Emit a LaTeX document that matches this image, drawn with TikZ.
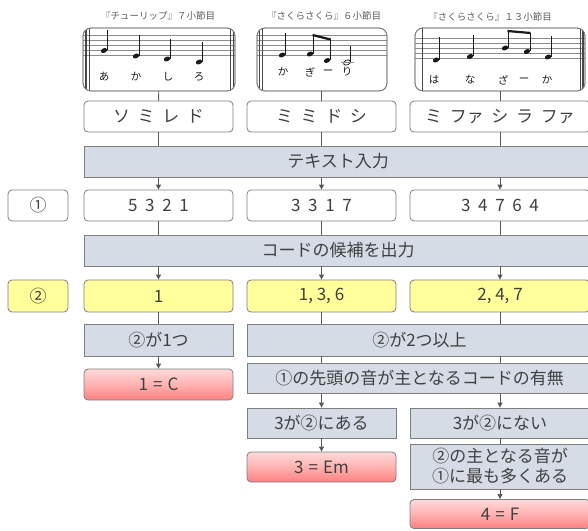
\documentclass[tikz,border=0pt]{standalone}
\usepackage{fontspec}
\setmainfont{Noto Sans CJK JP}
\usetikzlibrary{arrows.meta}
\definecolor{bordc}{HTML}{7F7F7F}
\definecolor{barc}{HTML}{D6DCE5}
\definecolor{yel}{HTML}{FFFF9C}
\definecolor{redt}{HTML}{FFDADA}
\definecolor{redb}{HTML}{FF8080}
\definecolor{txt}{HTML}{404040}
\definecolor{linec}{HTML}{595959}
\definecolor{notec}{HTML}{1A1A1A}
\definecolor{stl}{HTML}{8C8C8C}
\newcommand\gp{\hspace{0.45em}}
\newcommand\eqg{\hspace{0.3em}}
\newcommand\mfont{\fontsize{17}{20}\selectfont}
\newcommand\qn[3]{%
  \fill[notec] (#1,#2) ellipse[x radius=3.3, y radius=2.3, rotate=25];
  \draw[notec, line width=0.9pt] (#1+3,#2-0.5) -- (#1+3,#3);}
\begin{document}
\begin{tikzpicture}[x=1pt,y=-1pt,
  box/.style={draw=bordc, line width=0.8pt, rounded corners=4pt, fill=white,
    minimum height=31pt, inner sep=0pt, text=txt, font=\mfont},
  barbox/.style={draw=bordc, line width=0.8pt, fill=barc, minimum height=31pt,
    inner sep=0pt, text=txt, font=\mfont},
  ybox/.style={box, fill=yel},
  rbox/.style={box, top color=redt, bottom color=redb, middle color=redt!55!redb},
  staffbox/.style={draw=bordc, line width=0.8pt, rounded corners=8pt, minimum height=63pt, inner sep=0pt},
  ttl/.style={font=\fontsize{9.5}{11}\selectfont, text=txt!85, inner sep=0pt},
  lyr/.style={font=\fontsize{10.5}{12}\selectfont, text=notec, inner sep=0pt},
  ln/.style={draw=linec, line width=0.9pt},
  arr/.style={ln, -{Triangle[length=5pt,width=5pt]}},
  sl/.style={draw=stl, line width=0.6pt},
  bl/.style={draw=notec!80, line width=0.8pt}]
\path[use as bounding box] (0,0) rectangle (588,530);
\clip (0,0) rectangle (588,530);

% ---------- titles ----------
\node[ttl] (t1) at (158,16) {『チューリップ』７小節目};
\node[ttl] (t2) at (324,16) {『さくらさくら』６小節目};
\node[ttl] (t3) at (490,17) {『さくらさくら』１３小節目};

% ---------- staff 1 ----------
\node[staffbox, minimum width=152pt] (st1) at (159,59.5) {};
\begin{scope}
\clip[rounded corners=8pt] (83,28) rectangle (235,91);
\foreach \y in {35,40,45,50,55} \draw[sl] (83,\y) -- (235,\y);
\draw[bl, line width=1.2pt] (86,28) -- (86,91);
\draw[bl] (89.5,28) -- (89.5,91);
\draw[bl] (230,28) -- (230,91);
\draw[bl, line width=1.2pt] (233.5,28) -- (233.5,91);
\qn{104}{50.5}{30}
\qn{136}{56}{35}
\qn{167}{59}{39}
\qn{199}{62}{42}
\end{scope}
\node[lyr] (l11) at (104,77) {あ};
\node[lyr] (l12) at (136,77) {か};
\node[lyr] (l13) at (168,77) {し};
\node[lyr] (l14) at (199,77) {ろ};
\draw[bordc, line width=0.8pt, rounded corners=8pt] (83,28) rectangle (235,91);

% ---------- staff 2 ----------
\node[staffbox, minimum width=130pt] (st2) at (322,59.5) {};
\begin{scope}
\clip[rounded corners=8pt] (257,28) rectangle (387,91);
\foreach \y in {35,40,45,50,55} \draw[sl] (257,\y) -- (387,\y);
\draw[bl, line width=1.2pt] (259.5,28) -- (259.5,91);
\draw[bl] (262.5,28) -- (262.5,91);
\qn{282}{55}{33}
\qn{310}{54}{35}
\qn{327}{60.5}{39}
\draw[notec, line width=2.2pt] (312.5,35) -- (330.5,39.5);
\draw[notec, line width=0.8pt] (347,62.5) ellipse[x radius=3.6, y radius=2.4, rotate=25];
\draw[notec, line width=0.9pt] (350.3,62) -- (350.3,46);
\draw[sl] (341,62.5) -- (354,62.5);
\end{scope}
\node[lyr] (l21) at (283,72) {か};
\node[lyr] (l22) at (310,72) {ぎ};
\node[lyr] (l23) at (328,72) {ー};
\node[lyr] (l24) at (347,72) {り};
\draw[bordc, line width=0.8pt, rounded corners=8pt] (257,28) rectangle (387,91);

% ---------- staff 3 ----------
\node[staffbox, minimum width=170pt] (st3) at (500,59.5) {};
\begin{scope}
\clip[rounded corners=8pt] (415,28) rectangle (585,91);
\foreach \y in {38,43,48,53,58} \draw[sl] (415,\y) -- (585,\y);
\draw[bl] (422,28) -- (422,91);
\draw[bl] (580,28) -- (580,91);
\draw[bl, line width=1.2pt] (583,28) -- (583,91);
\qn{436}{60}{37}
\qn{470}{56.5}{35}
\qn{505}{48}{31}
\qn{527}{51.5}{33}
\draw[notec, line width=2.2pt] (507.5,31) -- (530.5,33);
\qn{548}{57}{36}
\end{scope}
\node[lyr] (l31) at (434,80) {は};
\node[lyr] (l32) at (470,80) {な};
\node[lyr] (l33) at (503,80) {ざ};
\node[lyr] (l34) at (524,80) {ー};
\node[lyr] (l35) at (547,80) {か};
\draw[bordc, line width=0.8pt, rounded corners=8pt] (415,28) rectangle (585,91);

% ---------- note names ----------
\node[box, minimum width=149pt] (n1) at (158.5,116.5) {ソ\gp ミ\gp レ\gp ド};
\node[box, minimum width=149pt] (n2) at (321.5,116.5) {ミ\gp ミ\gp ド\gp シ};
\node[box, minimum width=180pt] (n3) at (500,116.5) {ミ\gp ファ\gp シ\gp ラ\gp ファ};

\node[barbox, minimum width=508pt] (b1) at (338,161.5) {テキスト入力};

% ---------- row 1 ----------
\node[box, minimum width=60pt] (lab1) at (38,205.5) {①};
\node[box, minimum width=149pt] (a1) at (158.5,205.5) {5\gp 3\gp 2\gp 1};
\node[box, minimum width=149pt] (a2) at (321.5,205.5) {3\gp 3\gp 1\gp 7};
\node[box, minimum width=180pt] (a3) at (500,205.5) {3\gp 4\gp 7\gp 6\gp 4};

\node[barbox, minimum width=508pt] (b2) at (338,250.5) {コードの候補を出力};

% ---------- row 2 ----------
\node[ybox, minimum width=60pt, minimum height=32pt] (lab2) at (38,296) {②};
\node[ybox, minimum width=149pt, minimum height=32pt] (c1) at (158.5,296) {1};
\node[ybox, minimum width=149pt, minimum height=32pt] (c2) at (321.5,296) {1, 3, 6};
\node[ybox, minimum width=180pt, minimum height=32pt] (c3) at (500,296) {2, 4, 7};

\node[barbox, minimum width=149pt, minimum height=32pt] (d1) at (158.5,340) {②が1つ};
\node[barbox, minimum width=345pt, minimum height=32pt] (d2) at (419.5,340) {②が2つ以上};

\node[rbox, minimum width=149pt] (r1) at (158.5,384.5) {1\eqg=\eqg C};
\node[barbox, minimum width=345pt, minimum height=30pt] (e2) at (419.5,378) {①の先頭の音が主となるコードの有無};

\node[barbox, minimum width=149pt, minimum height=30pt] (f2) at (321.5,423) {3が②にある};
\node[barbox, minimum width=180pt, minimum height=30pt] (f3) at (500,423) {3が②にない};

\node[rbox, minimum width=149pt, minimum height=30pt] (r2) at (321.5,467) {3\eqg=\eqg Em};
\node[barbox, minimum width=180pt, minimum height=45pt, align=center,
  font=\fontsize{17}{20}\selectfont] (g3) at (500,466.5) {②の主となる音が\\①に最も多くある};
\node[rbox, minimum width=180pt, minimum height=29pt] (r3) at (500,514) {4\eqg=\eqg F};

% ---------- connectors ----------
\draw[ln] (st1) -- (n1);
\draw[ln] (st2.south -| n2) -- (n2);
\draw[ln] (st3.south -| n3) -- (n3);
\draw[ln] (n1) -- (n1 |- b1.north);
\draw[ln] (n2) -- (n2 |- b1.north);
\draw[ln] (n3) -- (n3 |- b1.north);
\draw[arr] (a1 |- b1.south) -- (a1);
\draw[arr] (a2 |- b1.south) -- (a2);
\draw[arr] (a3 |- b1.south) -- (a3);
\draw[ln] (a1) -- (a1 |- b2.north);
\draw[ln] (a2) -- (a2 |- b2.north);
\draw[ln] (a3) -- (a3 |- b2.north);
\draw[arr] (c1 |- b2.south) -- (c1);
\draw[arr] (c2 |- b2.south) -- (c2);
\draw[arr] (c3 |- b2.south) -- (c3);
\draw[ln] (c1) -- (d1);
\draw[ln] (c2) -- (c2 |- d2.north);
\draw[ln] (c3) -- (c3 |- d2.north);
\draw[arr] (d1) -- (r1);
\draw[ln] (c2 |- d2.south) -- (c2 |- e2.north);
\draw[ln] (c3 |- d2.south) -- (c3 |- e2.north);
\draw[arr] (f2 |- e2.south) -- (f2);
\draw[arr] (f3 |- e2.south) -- (f3);
\draw[arr] (f2) -- (r2);
\draw[ln] (f3) -- (g3);
\draw[arr] (g3) -- (r3);
\end{tikzpicture}
\end{document}
